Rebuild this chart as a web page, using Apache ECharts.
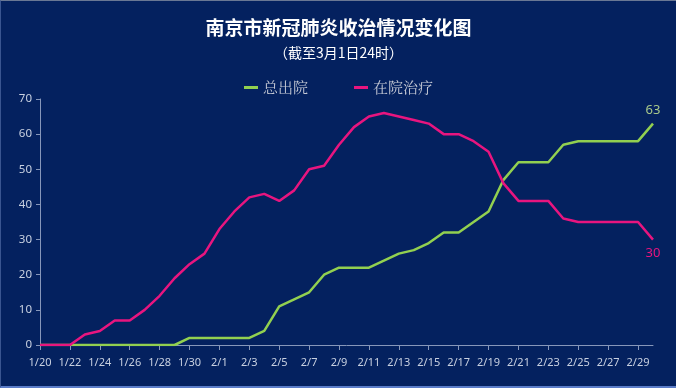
<!DOCTYPE html>
<html><head><meta charset="utf-8">
<script src="https://cdn.jsdelivr.net/npm/echarts@6/dist/echarts.min.js"></script>
<style>html,body{margin:0;padding:0;background:#04215f}#c{width:676px;height:388px;box-sizing:border-box;border-top:1px solid #6a7894;border-left:1px solid #3a5590;border-bottom:2px solid #5a7cc8}</style>
</head><body><div id="c"></div>
<script>
const categories = ['1/20','1/21','1/22','1/23','1/24','1/25','1/26','1/27','1/28','1/29','1/30','1/31',
 '2/1','2/2','2/3','2/4','2/5','2/6','2/7','2/8','2/9','2/10','2/11','2/12','2/13','2/14','2/15','2/16','2/17','2/18','2/19','2/20','2/21','2/22','2/23','2/24','2/25','2/26','2/27','2/28','2/29','3/1'];
const discharged = [0,0,0,0,0,0,0,0,0,0,2,2,2,2,2,4,11,13,15,20,22,22,22,24,26,27,29,32,32,35,38,47,52,52,52,57,58,58,58,58,58,63];
const inHospital = [0,0,0,3,4,7,7,10,14,19,23,26,33,38,42,43,41,44,50,51,57,62,65,66,65,64,63,60,60,58,55,46,41,41,41,36,35,35,35,35,35,30];
const seriesNames = ['总出院','在院治疗'];
const titleText = '南京市新冠肺炎收治情况变化图';
const subtitleText = '（截至3月1日24时）';

const chart = echarts.init(document.getElementById('c'));
const lastLabel = (color, pos) => ({
  show: true, position: pos, distance: 7, offset: [-6, 0], color: color, fontSize: 13, fontFamily: 'Noto Sans',
  formatter: p => p.dataIndex === categories.length - 1 ? String(p.value) : ''
});
chart.setOption({
  backgroundColor: '#04215f',
  title: {
    text: titleText, subtext: subtitleText, left: 'center', top: 12, itemGap: 9,
    textStyle: {color: '#ffffff', fontSize: 19, fontWeight: 'bold', fontFamily: 'Noto Sans CJK SC'},
    subtextStyle: {color: '#ffffff', fontSize: 14, fontFamily: 'Noto Sans CJK SC'}
  },
  legend: {
    top: 74, left: 'center', itemGap: 46, itemWidth: 14, itemHeight: 3, icon: 'rect',
    textStyle: {color: '#c4c8d4', fontSize: 15, fontFamily: 'Noto Serif CJK SC, Noto Sans CJK SC'},
    data: seriesNames
  },
  grid: {left: 39, right: 23, top: 98, bottom: 41, containLabel: false},
  xAxis: {
    type: 'category', data: categories, boundaryGap: false,
    axisLine: {lineStyle: {color: '#8797ba'}},
    axisTick: {interval: 1, lineStyle: {color: '#8797ba'}},
    axisLabel: {interval: 1, color: '#c8d0e0', fontSize: 11, margin: 12, fontFamily: 'Noto Sans'}
  },
  yAxis: {
    type: 'value', min: 0, max: 70, interval: 10,
    axisLine: {show: true, lineStyle: {color: '#8797ba'}},
    axisTick: {show: true, length: 4, lineStyle: {color: '#8797ba'}},
    splitLine: {show: false},
    axisLabel: {color: '#c8d0e0', fontSize: 11.5, margin: 8, fontFamily: 'Noto Sans'}
  },
  series: [
    {name: seriesNames[0], type: 'line', data: discharged, symbol: 'circle', symbolSize: 0.1, showAllSymbol: true, animation: false,
     lineStyle: {color: '#92d050', width: 2.5}, itemStyle: {color: '#92d050'},
     label: lastLabel('#a9c98a', 'top'), labelLayout: {hideOverlap: false}},
    {name: seriesNames[1], type: 'line', data: inHospital, symbol: 'circle', symbolSize: 0.1, showAllSymbol: true, animation: false,
     lineStyle: {color: '#e8157f', width: 2.5}, itemStyle: {color: '#e8157f'},
     label: lastLabel('#e8157f', 'bottom'), labelLayout: {hideOverlap: false}}
  ]
});
</script></body></html>
